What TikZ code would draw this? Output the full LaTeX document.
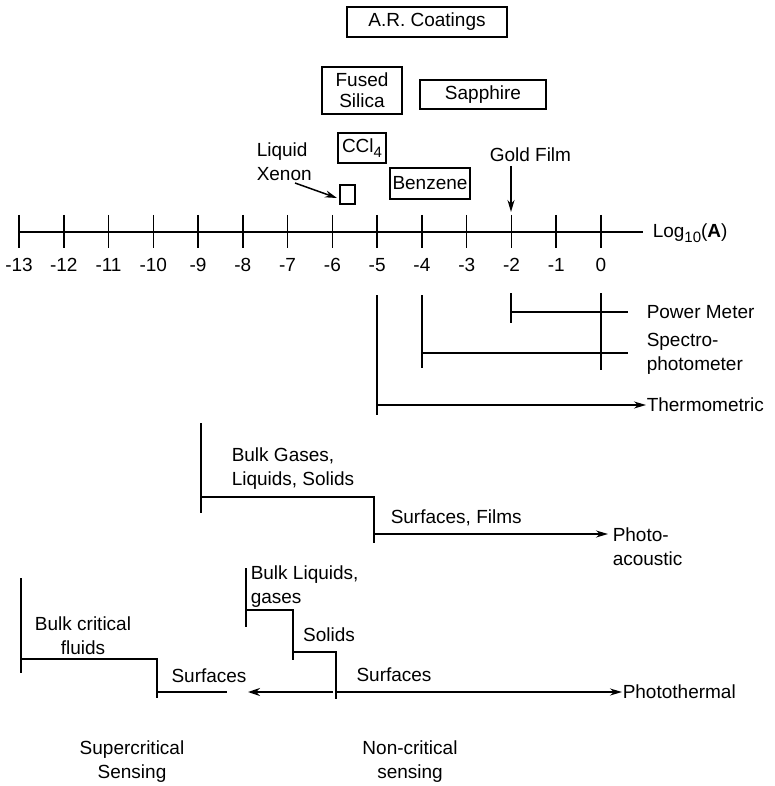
\documentclass[tikz,border=0pt]{standalone}
\usepackage{fontspec}
\setmainfont{Liberation Sans}
\usetikzlibrary{arrows.meta}
\newcommand{\mysub}[1]{\raisebox{-0.45ex}{\fontsize{15}{15}\selectfont #1}}
\begin{document}
\begin{tikzpicture}[x=1pt,y=-1pt,line width=1.5pt,
  txt/.style={font=\fontsize{19}{24}\selectfont,inner sep=0pt},
  boxed/.style={txt,draw,line width=1.2pt,align=center},
  arr/.style={-{Stealth[length=12pt,width=7pt]}},
  thickarr/.style={-{Stealth[length=12pt,width=8pt]},line width=2.2pt}]
\useasboundingbox (0,0) rectangle (775,786);

% ---- material boxes
\node[boxed,minimum width=160pt,minimum height=30pt] (ar) at (427,22) {A.R. Coatings};
\node[boxed,font=\fontsize{19}{21}\selectfont,minimum width=80pt,minimum height=47pt] (fs) at (362,90.5) {Fused\\Silica};
\node[boxed,minimum width=126pt,minimum height=29pt] (sa) at (483,94.5) {Sapphire};
\node[boxed,minimum width=48pt,minimum height=30pt] (ccl) at (362,148) {CCl\mysub{4}};
\node[boxed,minimum width=80pt,minimum height=31pt] (bz) at (430,183.5) {Benzene};
\node[draw,line width=1.2pt,minimum width=15pt,minimum height=19pt,inner sep=0pt] (xe) at (347.5,194.5) {};

\node[txt,align=left,anchor=west] (lx) at (256,162) {Liquid\\Xenon};
\coordinate (lxa) at (295,183);
\coordinate (lxb) at (337,198);
\draw[arr] (lxa) -- (lxb);

\node[txt,anchor=west] (gf) at (489,155) {Gold Film};
\coordinate (gfa) at (511,166);
\coordinate (gfb) at (511,212);
\draw[arr] (gfa) -- (gfb);

% ---- axis
\coordinate (ax0) at (19,232);
\coordinate (ax1) at (643,232);
\draw (ax0) -- (ax1);
\foreach \n in {0,...,13} {
  \draw ({601-44.77*\n},215) -- ({601-44.77*\n},248);
  \node[txt] (lb\n) at ({601-44.77*\n},265) {\ifnum\n=0 0\else -\n\fi};
}
\node[txt,anchor=west] (lg) at (652,233) {Log\mysub{10}(\textbf{A})};

% ---- thermometric group
\coordinate (pmT) at (511,293); \coordinate (pmB) at (511,323);
\coordinate (pmL) at (511,312); \coordinate (pmR) at (628,312);
\coordinate (zT) at (601,293);  \coordinate (zB) at (601,370);
\coordinate (spT) at (422,295); \coordinate (spB) at (422,368);
\coordinate (spL) at (422,353); \coordinate (spR) at (628,353);
\coordinate (thT) at (377,295); \coordinate (thB) at (377,415);
\coordinate (thL) at (377,405);
\node[txt,anchor=west] (pm) at (646,312) {Power Meter};
\node[txt,anchor=west,align=left] (sp) at (646,354) {Spectro-\\photometer};
\node[txt,anchor=west] (th) at (646,405) {Thermometric};
\draw (pmT) -- (pmB);
\draw (pmL) -- (pmR);
\draw (zT) -- (zB);
\draw (spT) -- (spB);
\draw (spL) -- (spR);
\draw (thT) -- (thB);
\draw[arr] (thL) -- (th.west);

% ---- photoacoustic group
\coordinate (paA) at (201,423); \coordinate (paB) at (201,513);
\coordinate (paC) at (201,497); \coordinate (paD) at (374,497);
\coordinate (paE) at (374,543); \coordinate (paF) at (374,534);
\coordinate (paG) at (608,534);
\node[txt,anchor=west,align=left] (bg) at (231,469) {Bulk Gases,\\Liquids, Solids};
\node[txt,anchor=west] (sf) at (390,518) {Surfaces, Films};
\node[txt,anchor=west,align=left] (pa) at (612,547) {Photo-\\acoustic};
\draw (paA) -- (paB);
\draw (paC) -- (paD) -- (paE);
\draw[arr] (paF) -- (paG);

% ---- photothermal group
\coordinate (bcA) at (21,578);  \coordinate (bcB) at (21,673);
\coordinate (bcC) at (21,659);  \coordinate (bcD) at (157,659);
\coordinate (bcE) at (157,698); \coordinate (bcF) at (157,692);
\coordinate (bcG) at (227,692);
\draw (bcA) -- (bcB);
\draw (bcC) -- (bcD) -- (bcE);
\draw (bcF) -- (bcG);

\coordinate (ncA) at (246,568); \coordinate (ncB) at (246,627);
\coordinate (ncC) at (246,610); \coordinate (ncD) at (293,610);
\coordinate (ncE) at (293,660); \coordinate (ncF) at (293,652);
\coordinate (ncG) at (336,652); \coordinate (ncH) at (336,699);
\coordinate (ncI) at (336,692); \coordinate (ncJ) at (333,692);
\coordinate (ltip) at (248,692);
\draw (ncA) -- (ncB);
\draw (ncC) -- (ncD) -- (ncE);
\draw (ncF) -- (ncG) -- (ncH);

\node[txt,align=center] (bcf) at (83,636) {Bulk critical\\fluids};
\node[txt] (sfl) at (209,676) {Surfaces};
\node[txt,anchor=west,align=left] (blg) at (250,587) {Bulk Liquids,\\gases};
\node[txt] (sol) at (329,635) {Solids};
\node[txt] (sfr) at (394,675) {Surfaces};
\node[txt,anchor=west] (pt) at (622,692) {Photothermal};
\draw[arr] (ncI) -- (pt.west);
\draw[thickarr] (ncJ) -- (ltip);

\node[txt,align=center] (sc) at (132,762) {Supercritical\\Sensing};
\node[txt,align=center] (nc) at (410,762) {Non-critical\\sensing};
\end{tikzpicture}
\end{document}
